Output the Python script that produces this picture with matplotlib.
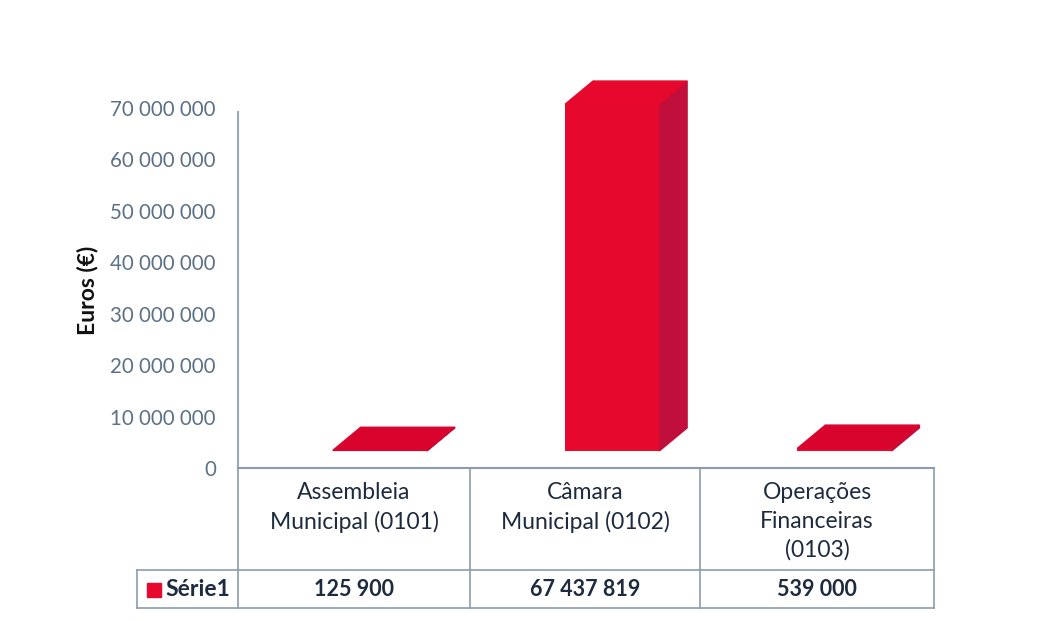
import matplotlib.pyplot as plt
from matplotlib.patches import Polygon, Rectangle

# data
categories = ["Assembleia\nMunicipal (0101)", "Câmara\nMunicipal (0102)", "Operações\nFinanceiras\n(0103)"]
values = [125900, 67437819, 539000]
value_labels = ["125 900", "67 437 819", "539 000"]
series_name = "Série1"
yticks = [0, 10e6, 20e6, 30e6, 40e6, 50e6, 60e6, 70e6]

plt.rcParams['font.family'] = ['Lato', 'DejaVu Sans']

W, H = 1055, 621
fig = plt.figure(figsize=(W / 100, H / 100), dpi=100)
ax = fig.add_axes([238 / W, 1 - 468 / H, 697 / W, 396 / H])
ax.set_xlim(0, 3)
ax.set_ylim(0, 77e6)

front_c = '#E6082D'
top_c = '#D8042E'
side_c = '#BF0F3A'
axis_c = '#9AAAB8'
text_c = '#1E2B3E'

# pseudo 3D bars
base = 3.3e6
off = 0.408
bw = 0.405
dx = 0.12
dy = 4.5e6
for i, v in enumerate(values):
    x0 = i + off
    x1 = x0 + bw
    top = base + v
    ax.bar(x0, v, width=bw, bottom=base, align='edge', color=front_c, zorder=3)
    ax.add_patch(Polygon([(x0, top), (x1, top), (x1 + dx, top + dy), (x0 + dx, top + dy)],
                         closed=True, color=top_c if v < 5e6 else front_c, zorder=3, clip_on=False))
    ax.add_patch(Polygon([(x1, base), (x1 + dx, base + dy), (x1 + dx, top + dy), (x1, top)],
                         closed=True, color=side_c, zorder=2, clip_on=False))

ax.set_yticks(yticks)
ax.set_yticklabels([f"{int(t):,}".replace(",", " ") for t in yticks])
ax.tick_params(axis='y', length=0, pad=16, labelsize=14.8, labelcolor='#5C7185')
ax.set_xticks([])
for s in ['top', 'right', 'bottom']:
    ax.spines[s].set_visible(False)
ax.spines['left'].set_bounds(0, 69.3e6)
ax.spines['left'].set_color(axis_c)
ax.spines['left'].set_linewidth(1.5)

fig.text(88 / W, 1 - 290 / H, "Euros (€)", rotation=90, ha='center', va='center',
         fontsize=16.5, fontweight='bold', color='#111111')

# data table below the axis
def fx(px):
    return px / W

def fy(py):
    return 1 - py / H

cols = [238, 470, 700, 934]
y_top, y_mid, y_bot = 468, 570, 608
lc = '#8C9CAC'
fig.add_artist(plt.Line2D([fx(238), fx(934)], [fy(y_top)] * 2, color=lc, lw=1.5))
fig.add_artist(plt.Line2D([fx(137), fx(934)], [fy(y_mid)] * 2, color=lc, lw=1.2))
fig.add_artist(plt.Line2D([fx(137), fx(934)], [fy(y_bot)] * 2, color=lc, lw=1.2))
for c in cols:
    fig.add_artist(plt.Line2D([fx(c)] * 2, [fy(y_top), fy(y_bot)], color=lc, lw=1.2))
fig.add_artist(plt.Line2D([fx(137)] * 2, [fy(y_mid), fy(y_bot)], color=lc, lw=1.2))

for i, (cat, lab) in enumerate(zip(categories, value_labels)):
    cx = (cols[i] + cols[i + 1]) / 2
    fig.text(fx(cx), fy(482), cat, ha='center', va='top', fontsize=16.5,
             color=text_c, linespacing=1.45)
    fig.text(fx(cx), fy(589), lab, ha='center', va='center', fontsize=15.5,
             fontweight='bold', color=text_c)

fig.add_artist(Rectangle((fx(147), fy(597)), 14 / W, 14 / H, color=front_c))
fig.text(fx(165), fy(589), series_name, ha='left', va='center', fontsize=16.5,
         fontweight='bold', color=text_c)

fig.savefig("out.png", dpi=100, facecolor='white')
